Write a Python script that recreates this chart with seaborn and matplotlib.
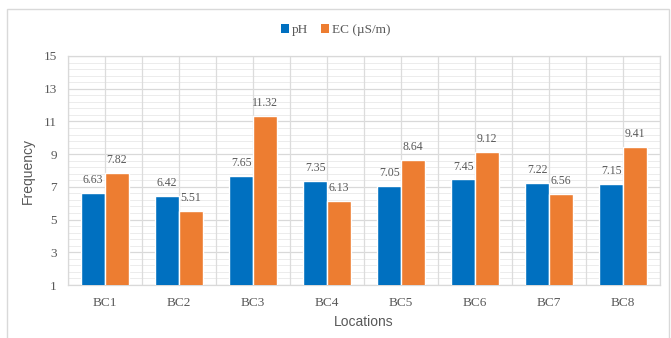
import matplotlib
matplotlib.use("Agg")
import matplotlib.pyplot as plt
import seaborn as sns
import pandas as pd
import numpy as np
from matplotlib.patches import Rectangle, Patch

locations = ["BC1", "BC2", "BC3", "BC4", "BC5", "BC6", "BC7", "BC8"]
ph_values = [6.63, 6.42, 7.65, 7.35, 7.05, 7.45, 7.22, 7.15]
ec_values = [7.82, 5.51, 11.32, 6.13, 8.64, 9.12, 6.56, 9.41]
series_names = ["pH", "EC (µS/m)"]
y_ticks = [1, 3, 5, 7, 9, 11, 13, 15]

colors = ["#0070C0", "#ED7D31"]
text_grey = "#595959"

df = pd.DataFrame({
    "Location": locations * 2,
    "Value": ph_values + ec_values,
    "Parameter": [series_names[0]] * len(locations) + [series_names[1]] * len(locations),
})

sns.set_theme(style="white")
plt.rcParams["font.family"] = ["Liberation Serif", "DejaVu Serif"]

fig = plt.figure(figsize=(6.71, 3.38), dpi=100)
ax = fig.add_axes([68 / 671, 1 - 285 / 338, (660 - 68) / 671, (285 - 56) / 338])

# outer chart frame
fig.patches.append(Rectangle((7 / 671, -0.05), (669 - 7) / 671, 1.05 - 9 / 338,
                             transform=fig.transFigure, fill=False,
                             edgecolor="#d9d9d9", linewidth=1.0))

sns.barplot(data=df, x="Location", y="Value", hue="Parameter", palette=colors,
            saturation=1, width=0.64, edgecolor="white", linewidth=1.0, ax=ax,
            legend=False, zorder=3)

ax.set_ylim(1, 15)
ax.set_xlim(-0.5, len(locations) - 0.5)
ax.set_yticks(y_ticks)

# grid: fine horizontal lines, vertical lines at category edges and centres
for y in np.arange(1, 15.01, 0.4):
    ax.axhline(y, color="#ececec", linewidth=0.7, zorder=0)
for y in y_ticks:
    ax.axhline(y, color="#d9d9d9", linewidth=0.9, zorder=1)
for x in np.arange(-0.5, len(locations), 0.5):
    ax.axvline(x, color="#dcdcdc", linewidth=0.9, zorder=1)

for s in ax.spines.values():
    s.set_color("#d9d9d9")
    s.set_linewidth(0.9)

# value labels above bars
for cont in ax.containers:
    ax.bar_label(cont, labels=[f"{v:.2f}" for v in cont.datavalues], padding=5,
                 fontsize=8.5, color=text_grey, family=["Liberation Serif"])

ax.tick_params(axis="both", length=0, labelsize=9.5, colors=text_grey, pad=8)
ax.tick_params(axis="x", pad=9)
ax.set_xlabel("Locations", family=["Liberation Sans", "DejaVu Sans"], fontsize=10,
              color=text_grey, labelpad=4)
ax.set_ylabel("Frequency", family=["Liberation Sans", "DejaVu Sans"], fontsize=10,
              color=text_grey, labelpad=6)

handles = [Patch(facecolor=c, edgecolor="none") for c in colors]
fig.legend(handles, series_names, loc="center", bbox_to_anchor=(0.5, 1 - 30 / 338),
           ncol=2, frameon=False, fontsize=9.5, handlelength=0.6, handleheight=0.6,
           handletextpad=0.2, columnspacing=1.0, labelcolor=text_grey)

fig.savefig("out.png", dpi=100)
